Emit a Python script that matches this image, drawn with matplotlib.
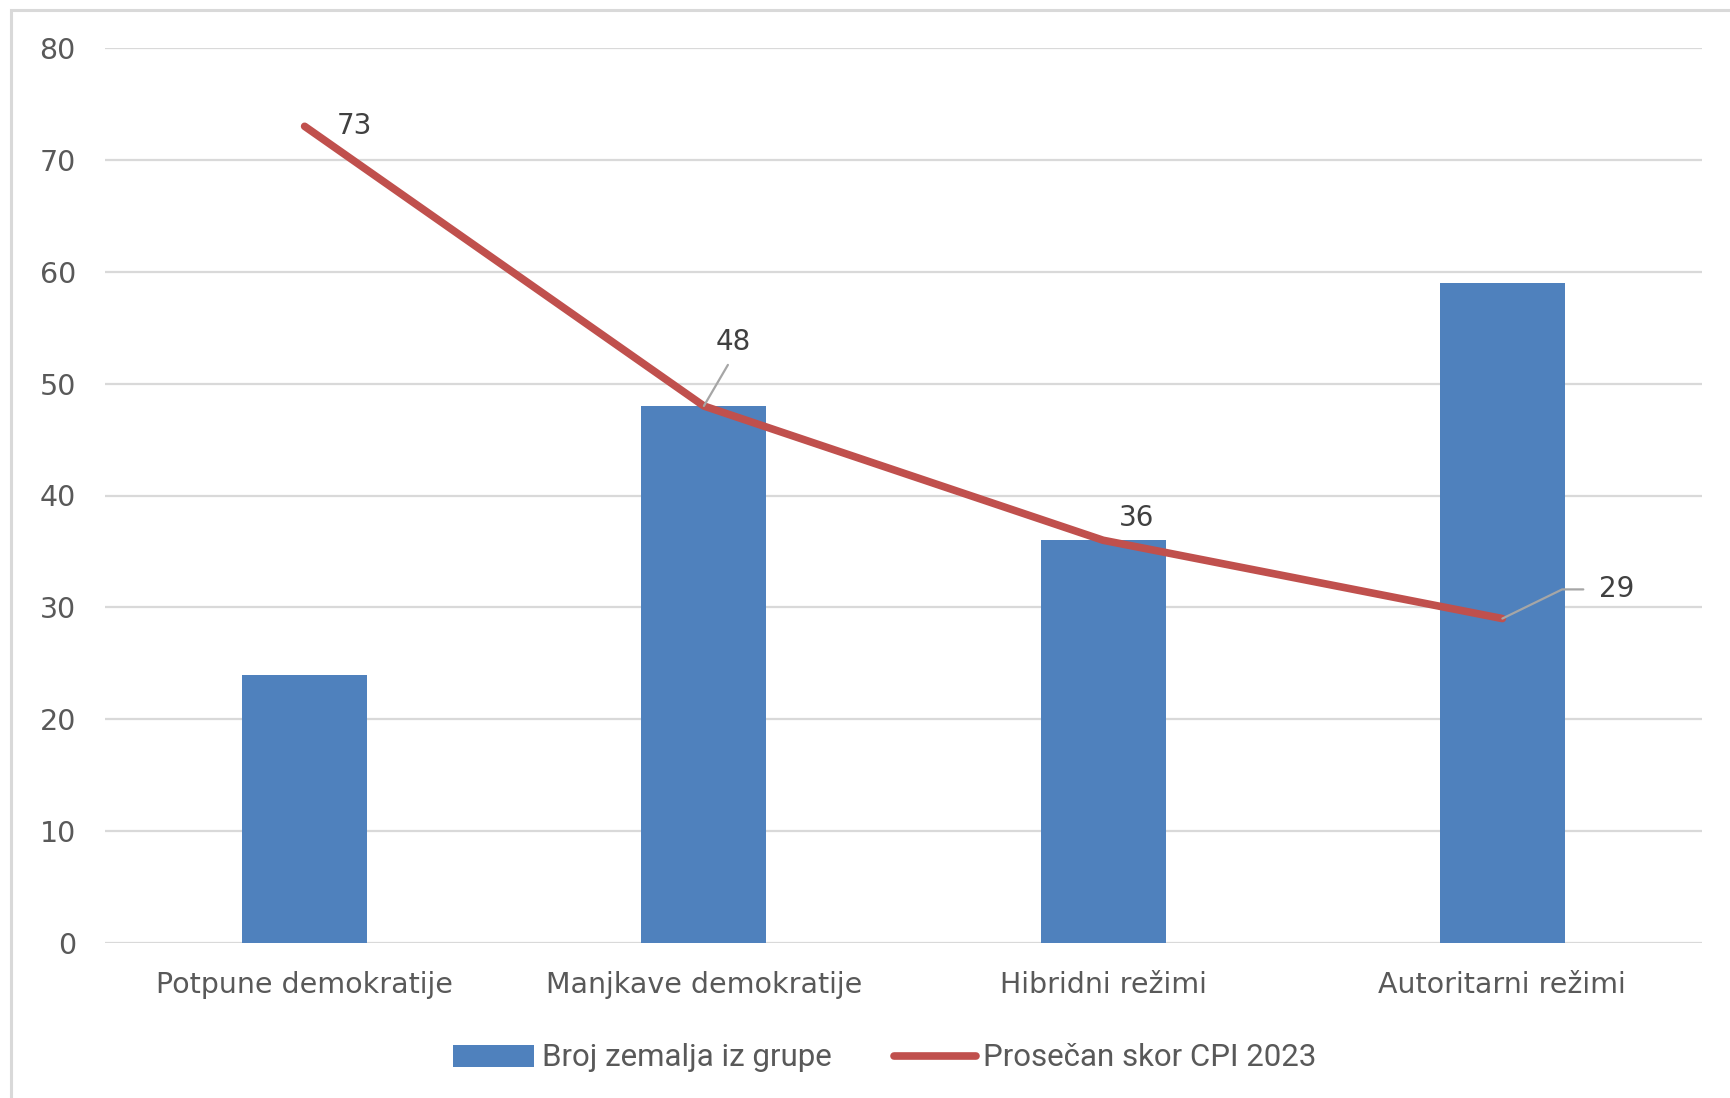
import matplotlib
matplotlib.use("Agg")
import matplotlib.pyplot as plt
from matplotlib.patches import Rectangle

categories = ["Potpune demokratije", "Manjkave demokratije", "Hibridni režimi", "Autoritarni režimi"]
bar_values = [24, 48, 36, 59]
line_values = [73, 48, 36, 29]
bar_name = "Broj zemalja iz grupe"
line_name = "Prosečan skor CPI 2023"
yticks = [0, 10, 20, 30, 40, 50, 60, 70, 80]

W, H = 1731, 1098
fig = plt.figure(figsize=(W / 100, H / 100), dpi=100)
plt.rcParams['font.family'] = ['DejaVu Sans']

ax = fig.add_axes([105 / W, 1 - 943 / H, (1702 - 105) / W, (943 - 48) / H])
x = list(range(len(categories)))
bars = ax.bar(x, bar_values, width=0.313, color="#4F81BD", zorder=2, label=bar_name)
line, = ax.plot(x, line_values, color="#C0504D", lw=5.5, solid_capstyle="round", zorder=3, label=line_name)

ax.set_xlim(-0.5, len(categories) - 0.5)
ax.set_ylim(0, 80)
ax.set_yticks(yticks)
ax.set_xticks(x)
ax.set_xticklabels(categories)
ax.grid(axis="y", color="#D9D9D9", lw=1.6, zorder=0)
ax.set_axisbelow(True)
for s in ax.spines.values():
    s.set_visible(False)
ax.tick_params(axis="both", length=0, labelsize=20.5, colors="#595959")
ax.tick_params(axis="y", pad=21)
ax.tick_params(axis="x", pad=20)

# data labels
lab_kw = dict(fontsize=20, color="#404040", ha="center", va="center", zorder=4)
ax.annotate(str(line_values[0]), (x[0], line_values[0]), xytext=(36, 0), textcoords="offset points", **lab_kw)
ax.annotate(str(line_values[1]), (x[1], line_values[1]), xytext=(21, 46), textcoords="offset points",
            arrowprops=dict(arrowstyle="-", color="#A6A6A6", lw=1.6, shrinkA=5, shrinkB=0,
                            relpos=(0.5, 0.0)), **lab_kw)
ax.annotate(str(line_values[2]), (x[2], line_values[2]), xytext=(24, 16), textcoords="offset points", **lab_kw)
ax.annotate(str(line_values[3]), (x[3], line_values[3]), xytext=(82, 21), textcoords="offset points",
            arrowprops=dict(arrowstyle="-", color="#A6A6A6", lw=1.6, shrinkA=9, shrinkB=0,
                            connectionstyle="angle,angleA=0,angleB=26,rad=0", relpos=(0.0, 0.5)),
            **lab_kw)

# outer frame
fig.patches.append(Rectangle((11 / W, -0.1), 1.2, 1 - 10 / H + 0.1, transform=fig.transFigure,
                             fill=False, edgecolor="#D9D9D9", lw=2.2))

leg = fig.legend([bars, line], [bar_name, line_name], loc="center",
                 bbox_to_anchor=(885 / W, 1 - 1058 / H), ncol=2, frameon=False,
                 handlelength=2.6, handletextpad=0.25, columnspacing=2.0,
                 prop={'family': ['Roboto', 'DejaVu Sans'], 'size': 22.5})
for t in leg.get_texts():
    t.set_color("#595959")

fig.savefig("out.png", dpi=100)
